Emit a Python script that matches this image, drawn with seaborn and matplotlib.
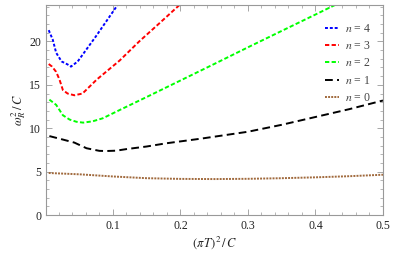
import numpy as np
import pandas as pd
import matplotlib
matplotlib.use('Agg')
import matplotlib.pyplot as plt
from matplotlib.ticker import MultipleLocator
import seaborn as sns

# values
x_n4 = [0.005, 0.011, 0.016, 0.024, 0.033, 0.038, 0.048, 0.075, 0.107, 0.12]
y_n4 = [21.3, 20.2, 18.7, 17.7, 17.35, 17.1, 17.7, 20.6, 24.2, 25.6]

x_n3 = [0.005, 0.01, 0.016, 0.021, 0.026, 0.033, 0.043, 0.055, 0.076, 0.11, 0.139, 0.169, 0.21]
y_n3 = [17.4, 17.1, 16.5, 15.6, 14.4, 14.0, 13.8, 14.0, 15.6, 17.8, 20.0, 22.1, 25.0]

x_n2 = [0.006, 0.016, 0.021, 0.026, 0.036, 0.046, 0.056, 0.07, 0.085, 0.11, 0.15, 0.2,
        0.25, 0.302, 0.347, 0.4, 0.45]
y_n2 = [13.3, 12.7, 12.1, 11.5, 11.0, 10.75, 10.65, 10.8, 11.15, 12.1, 13.6, 15.5,
        17.4, 19.4, 21.1, 23.1, 25.0]

x_n1 = [0.006, 0.026, 0.043, 0.061, 0.08, 0.09, 0.105, 0.12, 0.15, 0.179, 0.23, 0.3,
        0.35, 0.4, 0.45, 0.5]
y_n1 = [9.1, 8.7, 8.35, 7.7, 7.4, 7.38, 7.42, 7.6, 7.9, 8.27, 8.8, 9.6,
        10.4, 11.3, 12.2, 13.2]

x_n0 = [0.005, 0.05, 0.1, 0.15, 0.2, 0.25, 0.3, 0.35, 0.4, 0.45, 0.5]
y_n0 = [4.85, 4.7, 4.45, 4.25, 4.17, 4.15, 4.18, 4.25, 4.35, 4.48, 4.65]

labels = [r'$n$ = 4', r'$n$ = 3', r'$n$ = 2', r'$n$ = 1', r'$n$ = 0']
colors = ['#0000ff', '#ff0000', '#00ff00', '#000000', '#a0693c']
dashes = [(1.5, 1.0), (2.2, 1.2), (2.2, 1.2), (4.0, 2.2), (1.0, 0.6)]

series = [(x_n4, y_n4), (x_n3, y_n3), (x_n2, y_n2), (x_n1, y_n1), (x_n0, y_n0)]

sns.set_style('ticks')
plt.rcParams['font.family'] = ['Liberation Serif', 'DejaVu Serif']
plt.rcParams['mathtext.fontset'] = 'stix'

fig = plt.figure(figsize=(3.98, 2.62), dpi=100)
ax = fig.add_axes([0.1156, 0.179, 0.8467, 0.802])

for (xs, ys), lab, col, ds in zip(series, labels, colors, dashes):
    df = pd.DataFrame({'x': xs, 'y': ys})
    sns.lineplot(data=df, x='x', y='y', ax=ax, color=col, lw=1.4,
                 dashes=False, label=lab, sort=False)
    ax.lines[-1].set_dashes(ds)

ax.set_xlim(0.001, 0.5)
ax.set_ylim(0, 24.2)
ax.set_xticks([0.1, 0.2, 0.3, 0.4, 0.5])
ax.set_xticklabels(['0.1', '0.2', '0.3', '0.4', '0.5'])
ax.xaxis.set_minor_locator(MultipleLocator(0.02))
ax.yaxis.set_major_locator(MultipleLocator(5))
ax.yaxis.set_minor_locator(MultipleLocator(1))
ax.tick_params(which='both', direction='in', top=True, right=True, color='#999999',
               labelsize=8.5, labelcolor='#222222')
ax.tick_params(which='major', length=4, width=0.6)
ax.tick_params(which='minor', length=2, width=0.5)
for s in ax.spines.values():
    s.set_color('#999999')
    s.set_linewidth(0.8)

ax.set_xlabel(r'$(\pi\,T)^2\,/\,C$', fontsize=9, color='#222222', labelpad=2)
ax.set_ylabel(r'$\omega_{R}^{2}\,/\,C$', fontsize=9, color='#222222', labelpad=1)

leg = ax.legend(loc='upper right', frameon=False, fontsize=8.5, handlelength=1.2,
                labelspacing=0.45, borderaxespad=0.3, handletextpad=0.5,
                bbox_to_anchor=(0.99, 0.955))
for t in leg.get_texts():
    t.set_color('#444444')

fig.savefig('out.png', dpi=100)
